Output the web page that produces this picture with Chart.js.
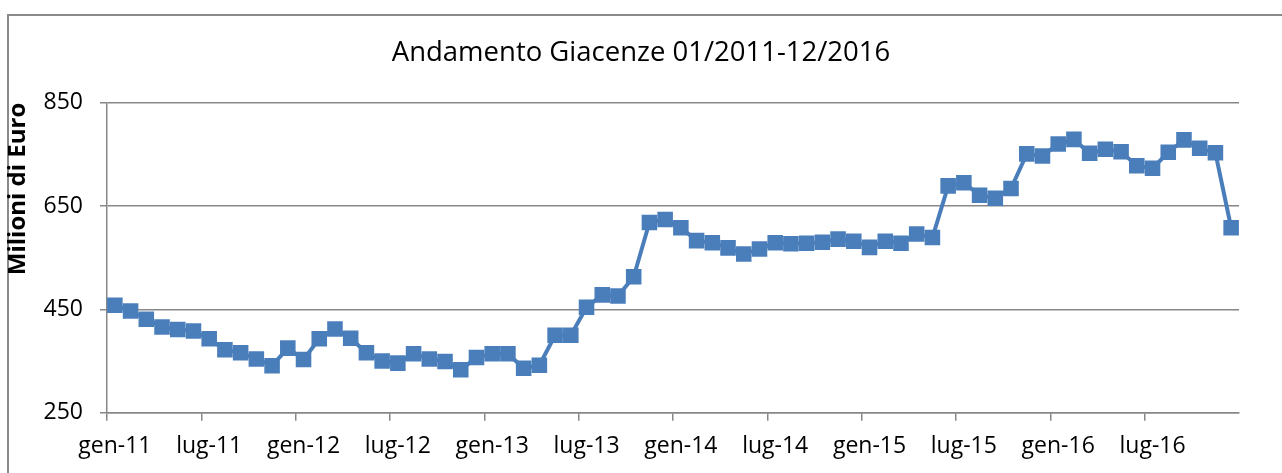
<!DOCTYPE html>
<html>
<head>
<meta charset="utf-8">
<script src="https://cdn.jsdelivr.net/npm/chart.js@4/dist/chart.umd.min.js"></script>
<style>
  html, body { margin: 0; padding: 0; background: #fff; overflow: hidden; }
  #frame { position: absolute; left: 7px; top: 14px; width: 1400px; height: 600px; border: 2px solid #8a8a8a; }
  #wrap { position: absolute; left: 0; top: 0; width: 1282px; height: 473px; }
</style>
</head>
<body>
<div id="frame"></div>
<div id="wrap"><canvas id="giacenze" width="1282" height="473"></canvas></div>
<script>
// categories: months (Italian) and years
const mesi = ['gen', 'feb', 'mar', 'apr', 'mag', 'giu', 'lug', 'ago', 'set', 'ott', 'nov', 'dic'];
const anni = ['11', '12', '13', '14', '15', '16'];

// monthly stock, millions of euro
const giacenze2011 = [458, 447, 431, 416, 411, 408, 393, 372, 366, 354, 341, 375];
const giacenze2012 = [353, 393, 412, 394, 366, 350, 346, 364, 354, 349, 333, 357];
const giacenze2013 = [364, 364, 336, 342, 400, 400, 454, 478, 476, 513, 618, 624];
const giacenze2014 = [608, 583, 579, 569, 557, 567, 579, 577, 578, 580, 586, 582];
const giacenze2015 = [570, 582, 578, 596, 589, 689, 695, 671, 665, 684, 751, 747];
const giacenze2016 = [770, 779, 752, 760, 755, 728, 723, 754, 778, 762, 753, 608];

const yTicks = [250, 450, 650, 850];

const labels = [];
anni.forEach(a => mesi.forEach(m => labels.push(m + '-' + a)));
const values = [].concat(giacenze2011, giacenze2012, giacenze2013, giacenze2014, giacenze2015, giacenze2016);

const grigio = '#878787';
const blu = '#4a7ebb';
const font = 'Open Sans';

const ctx = document.getElementById('giacenze').getContext('2d');
new Chart(ctx, {
  type: 'line',
  data: {
    labels: labels,
    datasets: [{
      label: 'Giacenze',
      data: values,
      yAxisID: 'y',
      borderColor: blu,
      borderWidth: 4,
      backgroundColor: '#4f81bd',
      pointStyle: 'rect',
      pointRadius: 11,
      pointBorderWidth: 0,
      pointBackgroundColor: '#4a7ebb',
      tension: 0
    }]
  },
  options: {
    responsive: false,
    animation: false,
    layout: { padding: 0 },
    plugins: {
      legend: { display: false },
      tooltip: { enabled: false },
      title: {
        display: true,
        text: 'Andamento Giacenze 01/2011-12/2016',
        color: '#000',
        font: { family: font, size: 27.5, weight: 'normal', lineHeight: 1.2 },
        padding: { top: 37, bottom: 32.7 }
      }
    },
    scales: {
      x: {
        offset: true,
        afterFit: s => { s.height = 60.3; },
        grid: {
          offset: true,
          drawOnChartArea: false,
          drawTicks: true,
          tickLength: 8,
          lineWidth: 1.5,
          color: c => (c.index % 6 === 0 ? grigio : 'rgba(0,0,0,0)'),
          tickColor: c => (c.index % 6 === 0 ? grigio : 'rgba(0,0,0,0)')
        },
        border: { color: grigio, width: 1.5 },
        ticks: {
          autoSkip: false,
          maxRotation: 0,
          minRotation: 0,
          padding: 12,
          color: '#000',
          font: { family: font, size: 23 },
          callback: (v, i) => (i % 6 === 0 ? labels[i] : '')
        }
      },
      y: {
        min: 250,
        max: 850,
        afterFit: s => { s.width = 107; },
        afterBuildTicks: s => { s.ticks = yTicks.map(v => ({ value: v })); },
        grid: {
          color: grigio,
          lineWidth: 1.5,
          drawTicks: true,
          tickLength: 7
        },
        border: { color: grigio, width: 1.5 },
        ticks: {
          padding: 17,
          color: '#000',
          font: { family: font, size: 23 }
        },
        title: {
          display: true,
          text: 'Milioni di Euro',
          align: 'end',
          color: '#000',
          font: { family: font, size: 24, weight: 'bold', lineHeight: 1 },
          padding: { top: 6, bottom: 0 }
        }
      },
      // empty right-hand margin so the title stays centred on the whole picture
      margine: {
        position: 'right',
        min: 250,
        max: 850,
        afterFit: s => { s.width = 43; },
        grid: { display: false },
        border: { display: false },
        ticks: { display: false }
      }
    }
  }
});
</script>
</body>
</html>
